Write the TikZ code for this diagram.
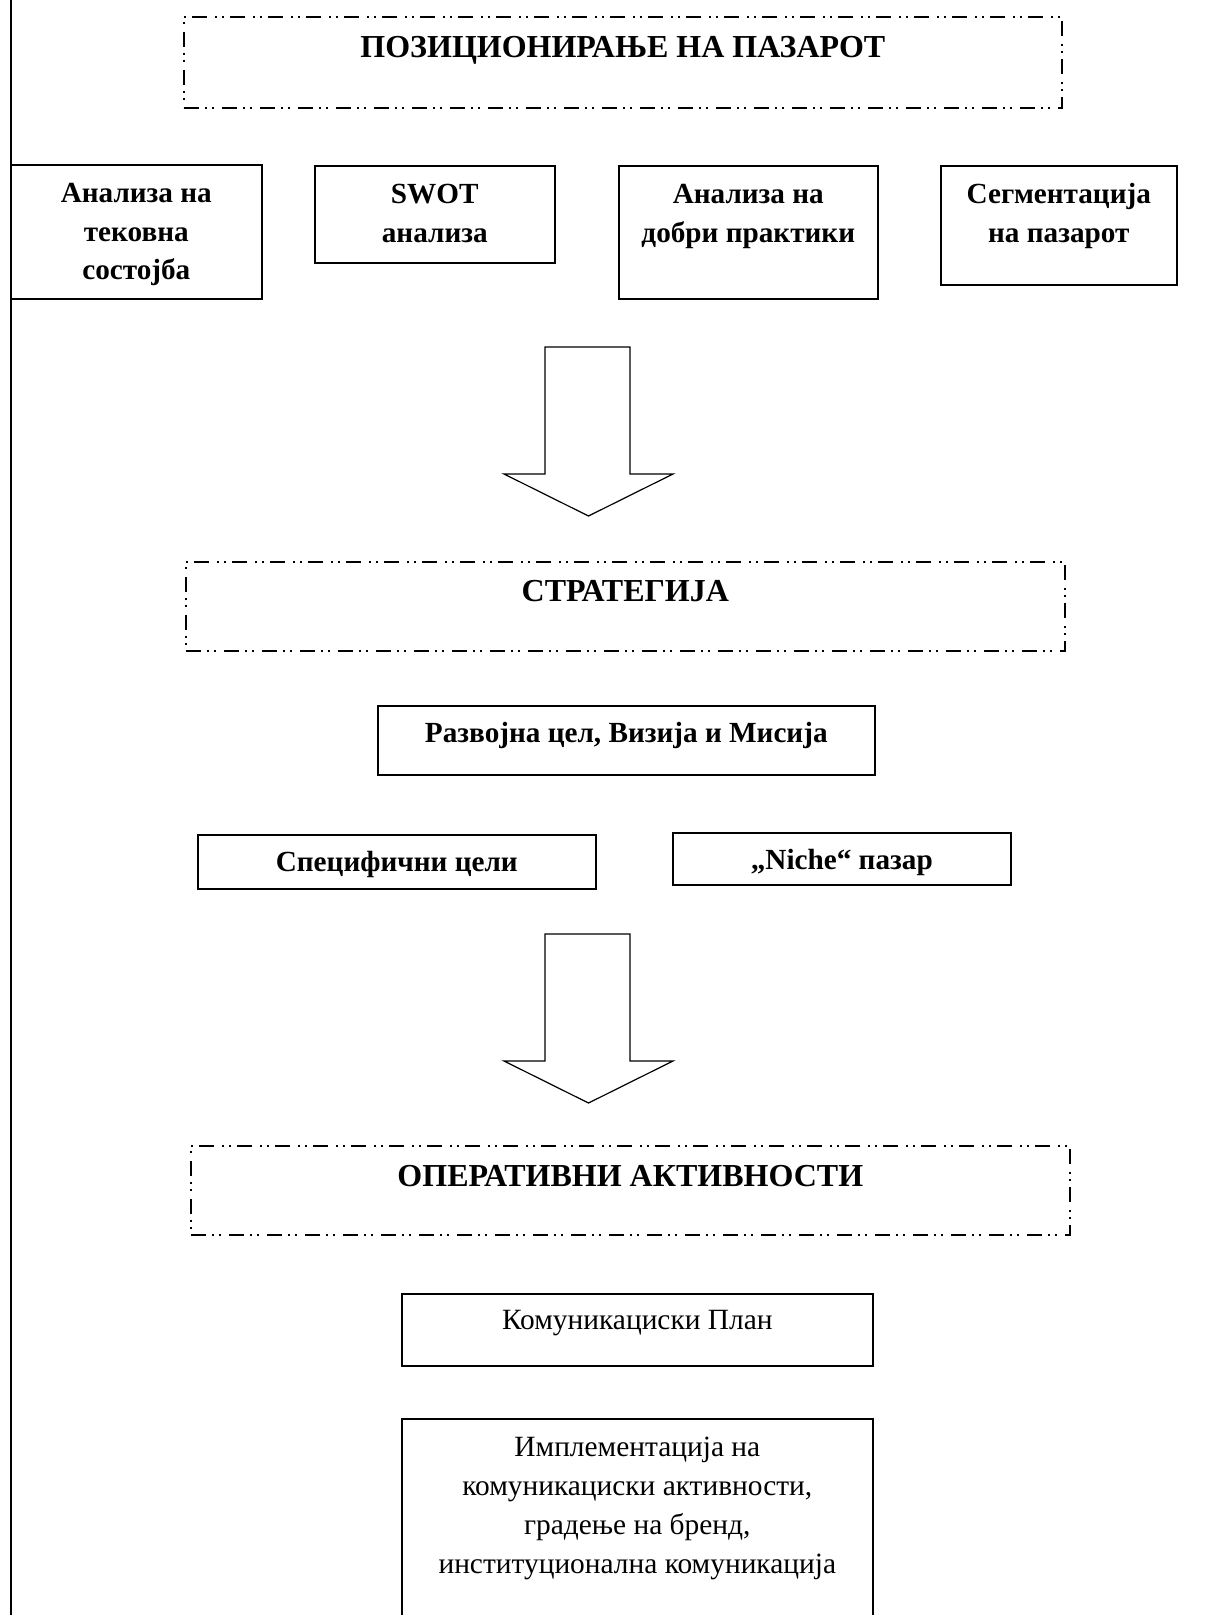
\documentclass[tikz,border=0pt]{standalone}
\usepackage{fontspec}
\setmainfont{Liberation Serif}
\usepackage{tikz}
\usetikzlibrary{positioning}
\newcommand*{\px}{0.5pt}
\newcommand*{\pgW}{1227}
\newcommand*{\pgH}{1615}

\begin{document}
\begin{tikzpicture}[x=0.5pt,y=-0.5pt,
  box/.style={draw,line width=0.8pt,inner xsep=0pt,inner ysep=0pt,align=center,anchor=north west,
    font=\bfseries\fontsize{14.6}{19.25}\selectfont},
  plainbox/.style={box,font=\fontsize{14.7}{19.5}\selectfont},
  dbox/.style={box,dash pattern=on 7.5pt off 3pt on 1pt off 2.5pt on 1pt off 4pt,
    font=\bfseries\fontsize{16}{19}\selectfont},
  blockarr/.style={draw,line width=0.6pt,fill=white}]
	\useasboundingbox (0,0) rectangle (\pgW,\pgH);
	\clip (0,0) rectangle (\pgW,\pgH);
	\draw[line width=1pt] (10.5,0) -- (10.5,\pgH);
	% pozicioniranje
	\node[dbox,minimum width=878*\px,text height=41*\px,text depth=50*\px] (pozic) at (183,16) {ПОЗИЦИОНИРАЊЕ НА ПАЗАРОТ};
	\node[box,minimum width=251*\px,text height=115*\px,text depth=19*\px] (stanje) at (10,164) {Анализа на\\тековна\\состојба};
	\node[box,minimum width=240*\px,text height=76.5*\px,text depth=20.5*\px] (swot) at (314,165) {SWOT\\анализа};
	\node[box,minimum width=259*\px,text height=76.5*\px,text depth=56.5*\px] (praktiki) at (618,165) {Анализа на\\добри практики};
	\node[box,minimum width=236*\px,text height=76.5*\px,text depth=42.5*\px] (segment) at (940,165) {Сегментација\\на пазарот};
	% strelki
	\foreach \t in {347,934}
	    \draw[blockarr] (545,\t) -- (630,\t) -- (630,\t+127) -- (673,\t+127) -- (588.5,\t+169) -- (504,\t+127) -- (545,\t+127) -- cycle;
	% strategija
	\node[dbox,minimum width=879*\px,text height=40*\px,text depth=49*\px] (strat) at (185,561) {СТРАТЕГИЈА};
	\node[box,minimum width=497*\px,text height=37*\px,text depth=32*\px] (razvoj) at (377,705) {Развојна цел, Визија и Мисија};
	\node[box,minimum width=398*\px,text height=37*\px,text depth=17*\px] (specif) at (197,834) {Специфични цели};
	\node[box,minimum width=338*\px,text height=37*\px,text depth=15*\px] (niche) at (672,832) {„Niche“ пазар};
	% operativni
	\node[dbox,minimum width=879*\px,text height=41*\px,text depth=48*\px] (operat) at (190,1145) {ОПЕРАТИВНИ АКТИВНОСТИ};
	\node[plainbox,minimum width=471*\px,text height=36*\px,text depth=36*\px] (plan) at (401,1293) {Комуникациски План};
	\node[plainbox,minimum width=471*\px,text height=155*\px,text depth=77*\px] (impl) at (401,1418) {Имплементација на\\комуникациски активности,\\градење на бренд,\\институционална комуникација};
\end{tikzpicture}
\end{document}
